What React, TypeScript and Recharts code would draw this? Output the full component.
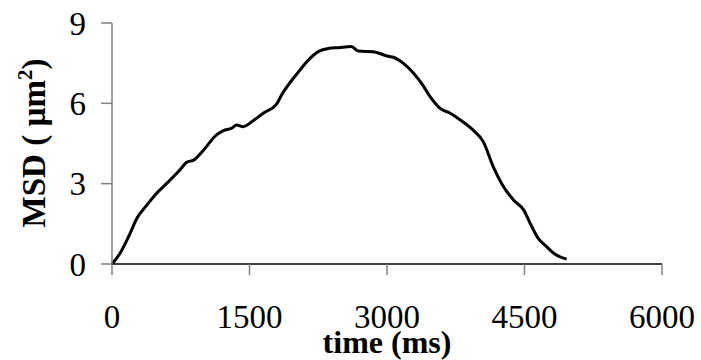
import { LineChart, Line, XAxis, YAxis } from "recharts";

const timeMs = [
  0, 90, 200, 270, 380, 470, 600, 740, 815, 890, 1000, 1140, 1215, 1305, 1360, 1430,
  1540, 1650, 1795, 1850, 2050, 2125, 2250, 2360, 2470, 2610, 2690, 2850, 3000, 3070,
  3180, 3290, 3390, 3470, 3580, 3690, 3800, 3940, 4050, 4160, 4250, 4380, 4490, 4580,
  4650, 4740, 4830, 4960,
];
const msd = [
  0, 0.41, 1.16, 1.7, 2.2, 2.58, 3.02, 3.51, 3.8, 3.88, 4.26, 4.82, 4.98, 5.07, 5.19, 5.13,
  5.35, 5.63, 5.97, 6.31, 7.24, 7.55, 7.93, 8.05, 8.08, 8.12, 7.95, 7.93, 7.77, 7.72,
  7.49, 7.12, 6.68, 6.25, 5.81, 5.63, 5.38, 5.0, 4.57, 3.63, 3.01, 2.39, 2.02, 1.39,
  0.96, 0.65, 0.37, 0.18,
];
const xTicks = [0, 1500, 3000, 4500, 6000];
const yTicks = [0, 3, 6, 9];

const serif = "Liberation Serif, Times New Roman, serif";

export default function App() {
  const data = timeMs.map((t, i) => ({ t, msd: msd[i] }));
  const tickStyle = { fontSize: 33, fill: "#000", style: { fontFamily: serif } };

  return (
    <div
      style={{ position: "absolute", left: 0, top: 0, width: 701, height: 360, background: "#fff", fontFamily: serif }}
    >
      <LineChart
        width={701}
        height={360}
        data={data}
        margin={{ top: 23, right: 39, bottom: 0, left: 0 }}
        style={{ fontFamily: serif }}
      >
        <XAxis
          dataKey="t"
          type="number"
          domain={[0, 6000]}
          ticks={xTicks}
          interval={0}
          height={96}
          tickSize={11}
          tickMargin={30}
          axisLine={{ stroke: "#000", strokeWidth: 1.5 }}
          tickLine={{ stroke: "#808080", strokeWidth: 1.5 }}
          tick={tickStyle}
          label={{
            content: () => (
              <text
                x={387}
                y={353}
                textAnchor="middle"
                style={{ fontFamily: serif }}
                fontWeight="bold"
                fontSize={32}
                fill="#000"
              >
                time (ms)
              </text>
            ),
          }}
        />
        <YAxis
          type="number"
          domain={[0, 9]}
          ticks={yTicks}
          interval={0}
          width={112}
          tickSize={11}
          tickMargin={15}
          axisLine={{ stroke: "#808080", strokeWidth: 1.5 }}
          tickLine={{ stroke: "#808080", strokeWidth: 1.5 }}
          tick={tickStyle}
          label={{
            content: () => (
              <text
                x={0}
                y={0}
                transform="translate(45,143) rotate(-90)"
                textAnchor="middle"
                style={{ fontFamily: serif }}
                fontWeight="bold"
                fontSize={33}
                fill="#000"
              >
                MSD ( µm
                <tspan dy={-13} fontSize={21}>2</tspan>
                <tspan dy={13}>)</tspan>
              </text>
            ),
          }}
        />
        <Line
          type="monotone"
          dataKey="msd"
          stroke="#000"
          strokeWidth={3}
          dot={false}
          isAnimationActive={false}
        />
      </LineChart>
    </div>
  );
}
